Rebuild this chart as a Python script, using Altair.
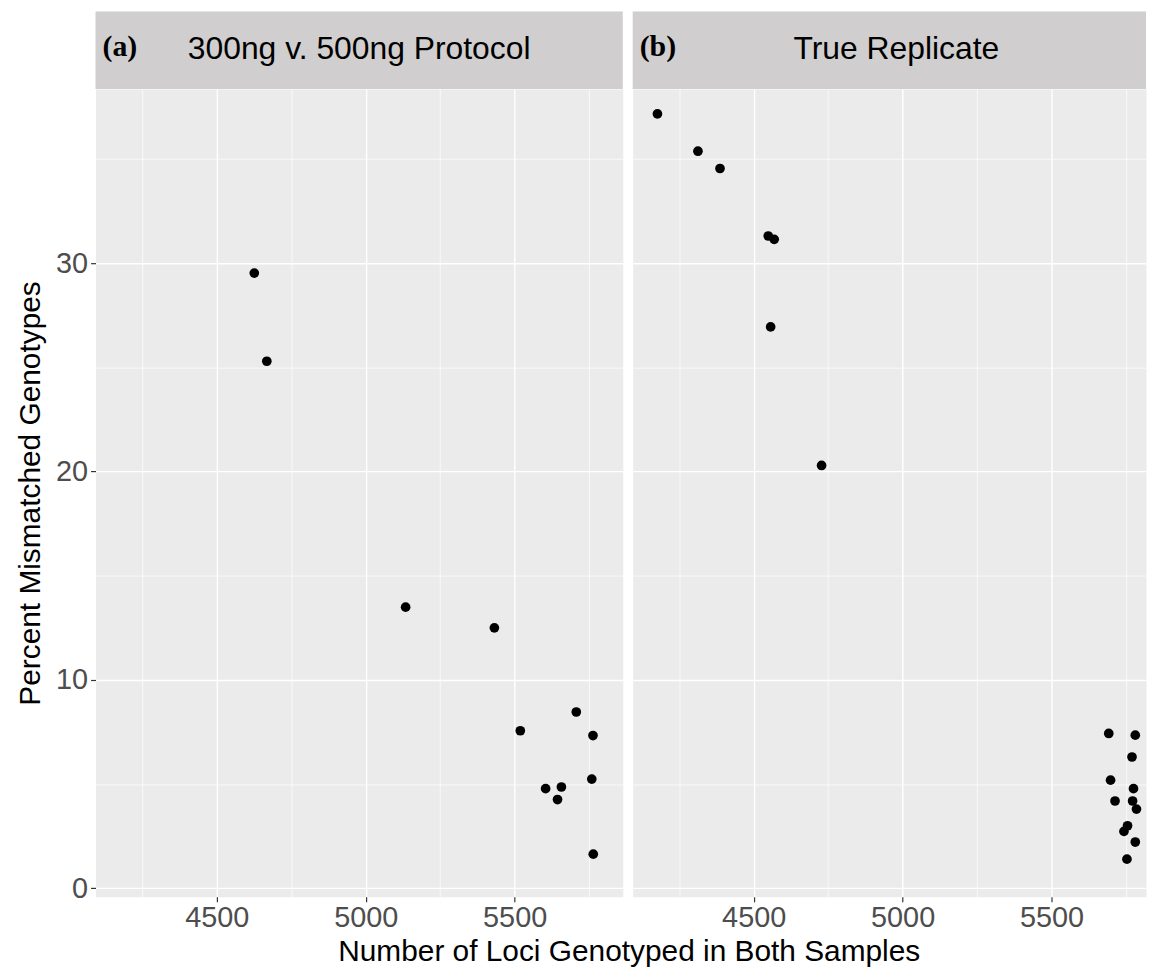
import altair as alt
import pandas as pd

# ---- data ----
a_loci = [4626, 4668, 5134, 5432, 5519, 5707, 5763, 5759, 5604, 5657, 5644, 5764]
a_pct = [29.52, 25.29, 13.49, 12.50, 7.56, 8.46, 7.33, 5.24, 4.78, 4.86, 4.26, 1.64]

b_loci = [4177, 4313, 4387, 4549, 4569, 4557, 4728, 5692, 5781, 5770, 5698,
          5775, 5713, 5772, 5785, 5755, 5743, 5781, 5753]
b_pct = [37.16, 35.37, 34.54, 31.30, 31.14, 26.94, 20.29, 7.43, 7.35, 6.30, 5.19,
         4.78, 4.19, 4.19, 3.80, 3.00, 2.73, 2.22, 1.40]

panel_titles = ["300ng v. 500ng Protocol", "True Replicate"]
panel_tags = ["(a)", "(b)"]
x_ticks = [4250, 4500, 4750, 5000, 5250, 5500, 5750]
y_ticks = [0, 5, 10, 15, 20, 25, 30, 35]

x_title = "Number of Loci Genotyped in Both Samples"
y_title = "Percent Mismatched Genotypes"

# ---- layout ----
W_A = 530
W_B = 516
FULL_W = 530
H = 812
STRIP = 78
X_DOM_A = [4093, 5863]
X_DOM_B = [4094, 5817]
Y_DOM = [-0.41, 38.35]

FONT = "Liberation Sans"
TICK_FS = 29
TITLE_FS = 30
x_major = "datum.value % 500 == 0"
y_major = "datum.value % 10 == 0"


def x_axis(with_title):
    kw = dict(
        values=x_ticks,
        format="d",
        labelExpr=f"{x_major} ? datum.label : ''",
        grid=True,
        gridColor="white",
        gridWidth={"condition": {"test": x_major, "value": 1.4}, "value": 0.7},
        tickColor={"condition": {"test": x_major, "value": "#333333"}, "value": "transparent"},
        tickSize=5,
        tickWidth=1.2,
        domain=False,
        labelFont=FONT,
        labelFontSize=TICK_FS,
        labelColor="#4D4D4D",
        labelPadding=2,
        labelFlush=False,
    )
    if with_title:
        kw.update(
            title=x_title,
            titleFont=FONT,
            titleFontSize=TITLE_FS,
            titleFontWeight="normal",
            titleColor="black",
            titleX=536,
            titleY=64,
            titleAlign="center",
            titleBaseline="alphabetic",
        )
    else:
        kw.update(title="")
    return alt.Axis(**kw)


def y_axis(with_labels):
    kw = dict(
        values=y_ticks,
        grid=True,
        gridColor="white",
        gridWidth={"condition": {"test": y_major, "value": 1.4}, "value": 0.7},
        domain=False,
    )
    if with_labels:
        kw.update(
            labelExpr=f"{y_major} ? datum.label : ''",
            tickColor={"condition": {"test": y_major, "value": "#333333"}, "value": "transparent"},
            tickSize=5,
            tickWidth=1.2,
            labelFont=FONT,
            labelFontSize=TICK_FS,
            labelColor="#4D4D4D",
            labelPadding=3,
            title=y_title,
            titleFont=FONT,
            titleFontSize=TITLE_FS,
            titleFontWeight="normal",
            titleColor="black",
            titlePadding=10,
        )
    else:
        kw.update(labels=False, ticks=False, title="")
    return alt.Axis(**kw)


def panel(xs, ys, dom, width, tag, title, first):
    df = pd.DataFrame({"loci": xs, "pct": ys})
    one = pd.DataFrame({"tag": [tag], "title": [title]})

    pts = alt.Chart(df).mark_circle(size=95, color="black", opacity=1).encode(
        x=alt.X("loci:Q", scale=alt.Scale(domain=dom, nice=False, zero=False),
                axis=x_axis(first)),
        y=alt.Y("pct:Q", scale=alt.Scale(domain=Y_DOM, nice=False, zero=False),
                axis=y_axis(first)),
    )
    strip = alt.Chart(one).mark_rect(color="#D0CECE").encode(
        x=alt.value(0), x2=alt.value(width),
        y=alt.value(-STRIP), y2=alt.value(0),
    )
    tag_txt = alt.Chart(one).mark_text(
        font="Liberation Serif", fontWeight="bold", fontSize=30,
        align="left", baseline="middle", color="black",
    ).encode(x=alt.value(7), y=alt.value(-STRIP / 2 - 3), text="tag:N")
    title_txt = alt.Chart(one).mark_text(
        font=FONT, fontSize=32, align="center", baseline="middle", color="black",
    ).encode(x=alt.value(FULL_W / 2), y=alt.value(-STRIP / 2 - 1), text="title:N")

    return alt.layer(strip, pts, tag_txt, title_txt).properties(width=width, height=H)


left = panel(a_loci, a_pct, X_DOM_A, W_A, panel_tags[0], panel_titles[0], True)
right = panel(b_loci, b_pct, X_DOM_B, W_B, panel_tags[1], panel_titles[1], False)

chart = alt.hconcat(left, right, spacing=10, bounds="flush").properties(
    padding={"left": 7, "top": 0, "right": 0, "bottom": 0},
    background="white",
).configure_view(fill="#EBEBEB", stroke="transparent")

chart.save("out.html", embed_options={"renderer": "svg", "actions": False})
